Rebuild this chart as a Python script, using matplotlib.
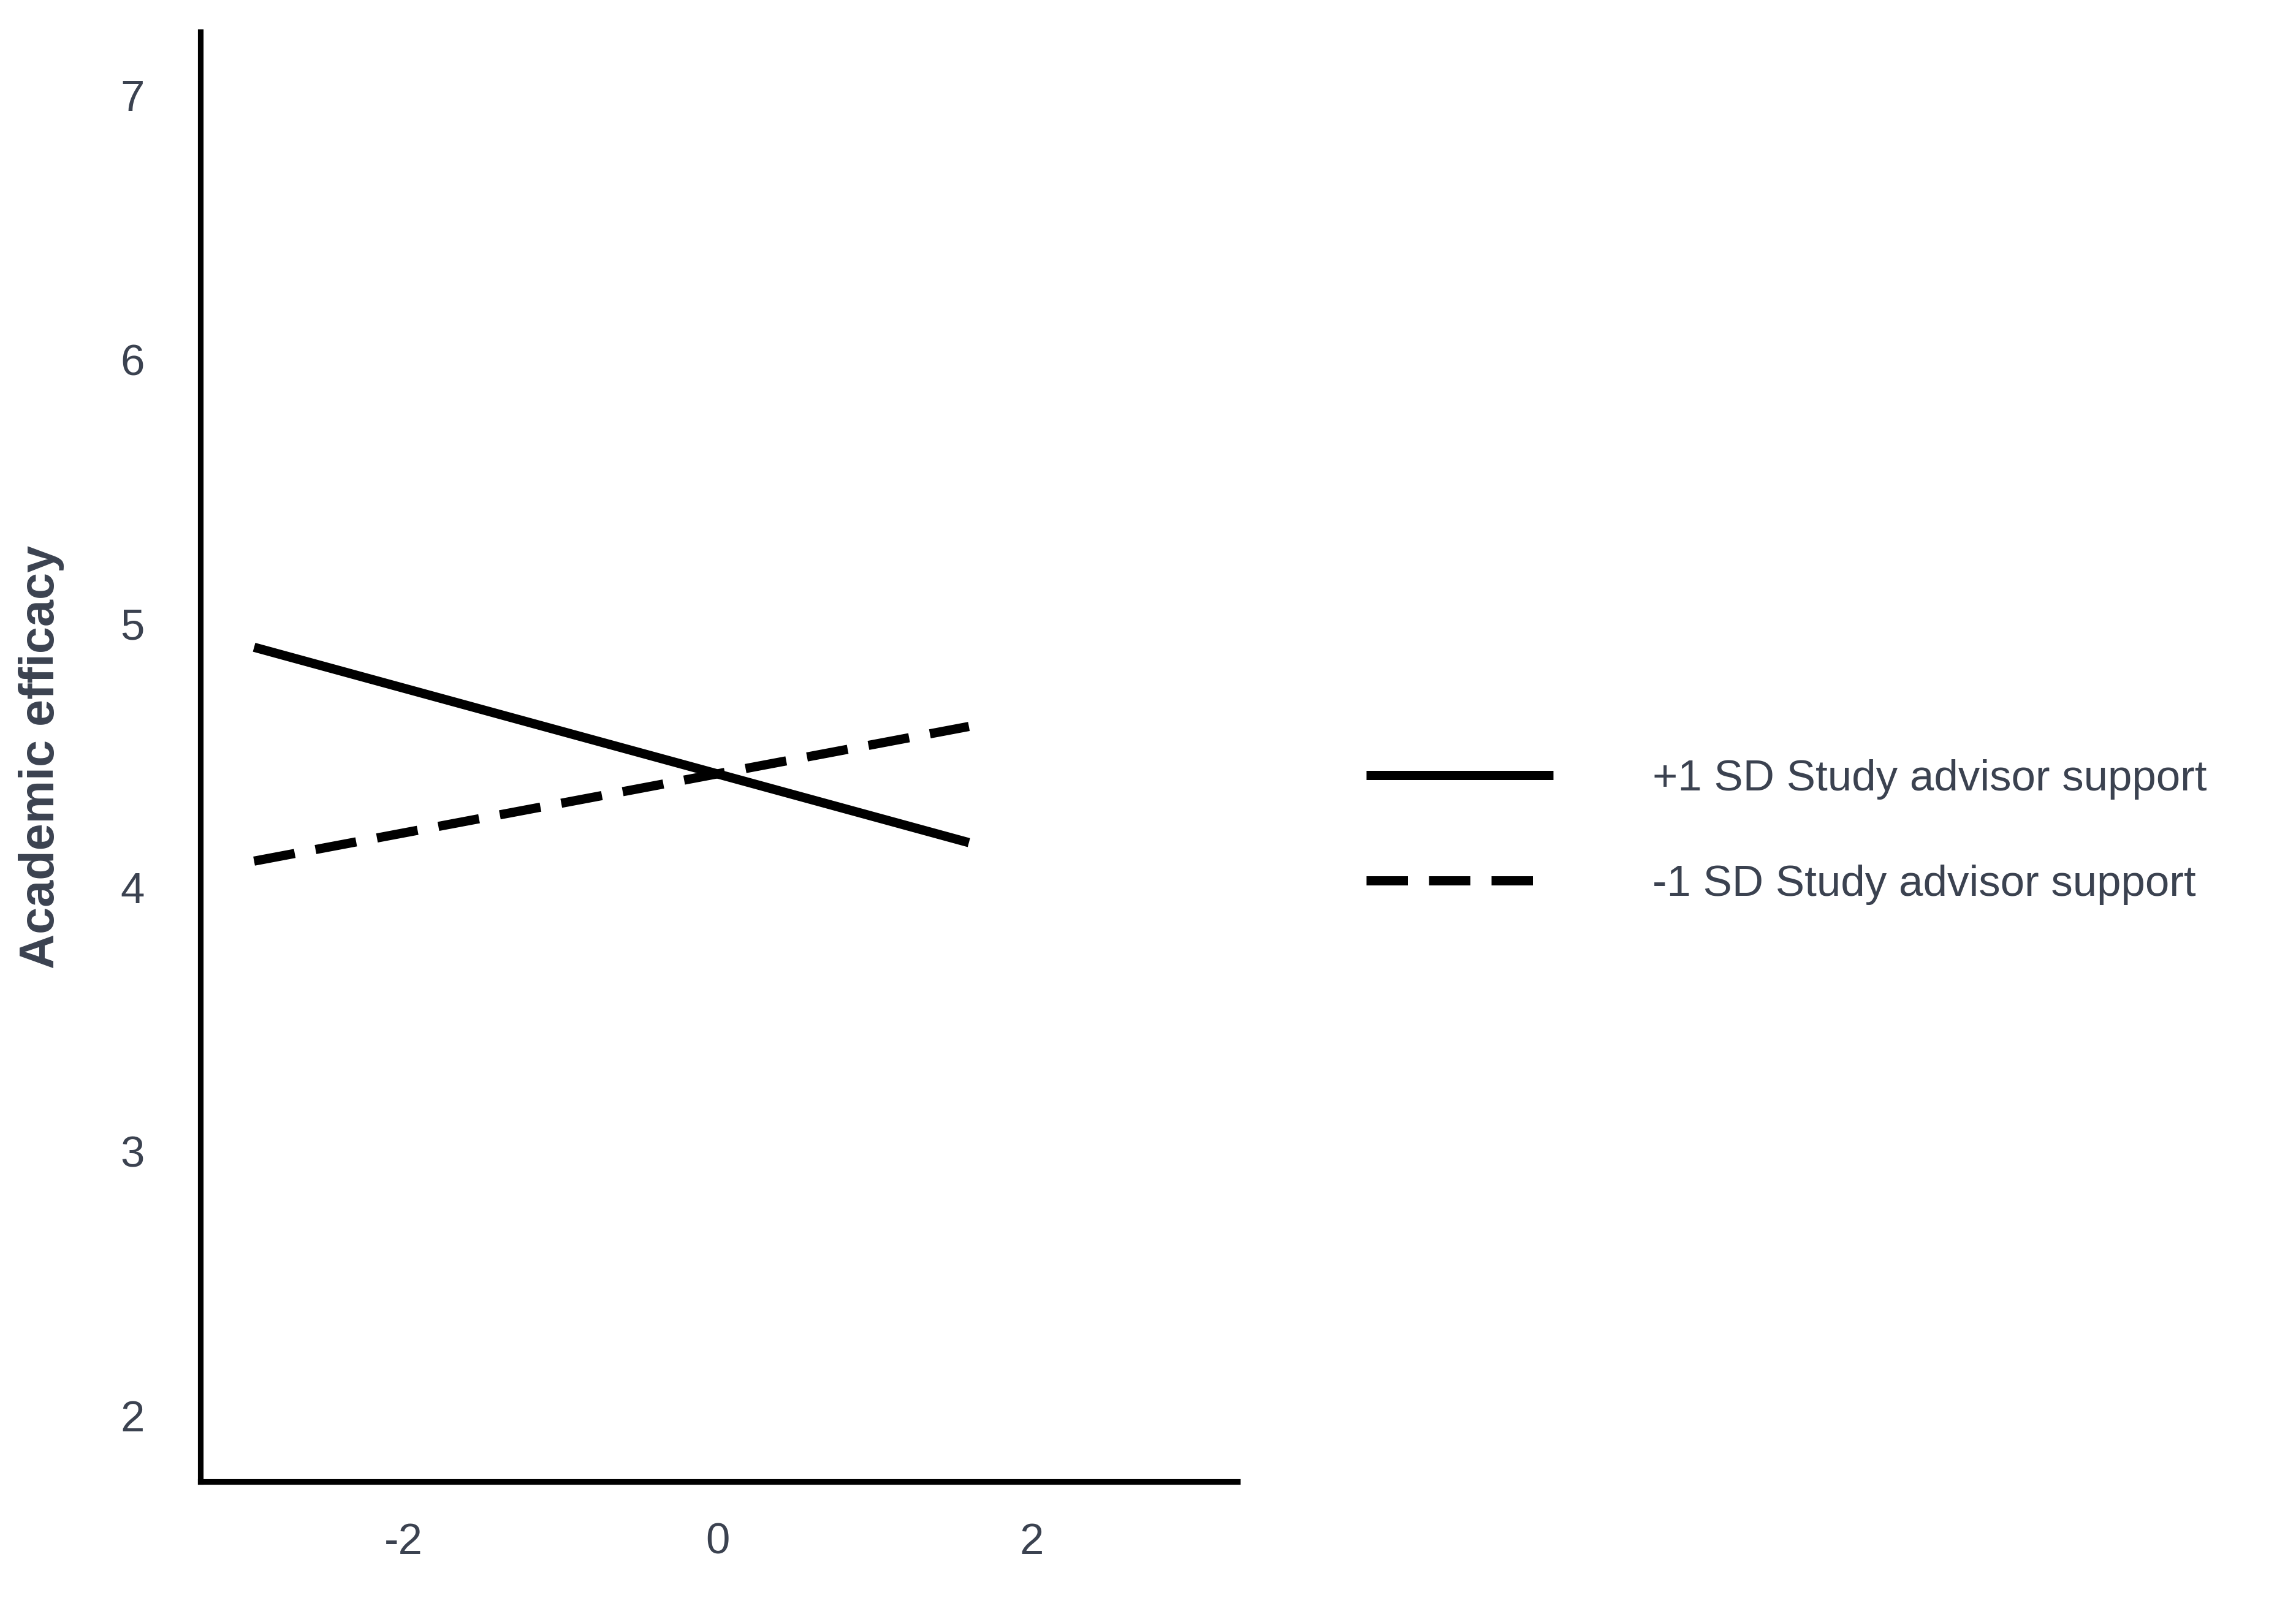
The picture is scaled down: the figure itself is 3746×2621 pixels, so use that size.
import matplotlib.pyplot as plt

plt.rcParams['font.family'] = ['Liberation Sans', 'DejaVu Sans']
plt.rcParams['axes.unicode_minus'] = False

x_vals = [-2.95, 1.6]
high_support = [4.91, 4.17]
low_support = [4.10, 4.61]
labels = ['+1 SD Study advisor support', '-1 SD Study advisor support']
text_color = '#3b4250'

fig = plt.figure(figsize=(3746/300, 2621/300), dpi=300)
ax = fig.add_axes([0.0874, 0.0775, 0.4516, 0.9025])

ax.plot(x_vals, high_support, color='black', lw=3.6, solid_capstyle='butt', label=labels[0])
ax.plot(x_vals, low_support, color='black', lw=3.6, ls=(0, (4.5, 2.3)), dash_capstyle='butt', label=labels[1])

ax.set_xlim(-3.29, 3.31)
ax.set_ylim(1.75, 7.24)
ax.set_xticks([-2, 0, 2])
ax.set_yticks([2, 3, 4, 5, 6, 7])
ax.tick_params(length=0, labelsize=17, labelcolor=text_color, pad=16)
ax.tick_params(axis='y', pad=22)
for s in ['top', 'right']:
    ax.spines[s].set_visible(False)
for s in ['left', 'bottom']:
    ax.spines[s].set_linewidth(2.2)
ax.set_ylabel('Academic efficacy', fontsize=19, fontweight='bold', color=text_color, labelpad=22)

fig.legend(loc='center left', bbox_to_anchor=(0.578, 0.482), frameon=False, fontsize=17,
           handlelength=4.3, handletextpad=2.3, labelspacing=1.5, labelcolor=text_color)

fig.savefig('out.png', dpi=300)
